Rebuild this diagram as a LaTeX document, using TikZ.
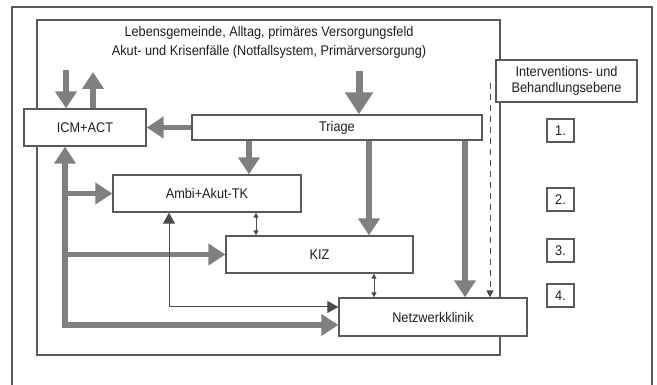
\documentclass[tikz,border=0pt]{standalone}
\usepackage{fontspec}
\setmainfont{Liberation Sans}[FakeStretch=0.91]
\usetikzlibrary{arrows.meta}
\definecolor{arrgray}{RGB}{128,128,128}
\definecolor{boxgray}{RGB}{90,90,90}
\definecolor{thingray}{RGB}{75,75,75}
\definecolor{txt}{RGB}{30,30,30}
\tikzset{
  lbl/.style={font=\fontsize{14}{16}\selectfont, text=txt},
  box/.style={draw=boxgray, line width=1.3pt, fill=white, inner sep=0pt, lbl},
  numbox/.style={draw=boxgray, line width=1.2pt, fill=white, inner sep=0pt, minimum width=27pt, minimum height=23pt, lbl},
  thickarr/.style={draw=arrgray, line width=5.5pt, -{Triangle[length=17pt,width=21pt]}},
  bigarr/.style={draw=arrgray, line width=7pt, -{Triangle[length=22pt,width=27pt]}},
  thinarr/.style={draw=thingray, line width=1pt, {Triangle[length=11pt,width=12pt]}-{Triangle[length=11pt,width=12pt]}},
  smallarr/.style={draw=thingray, line width=1pt, {Triangle[length=5pt,width=5pt]}-{Triangle[length=5pt,width=5pt]}},
  dasharr/.style={draw=thingray, line width=1pt, dash pattern=on 6pt off 5pt, -{Triangle[length=7pt,width=7pt]}},
}
\begin{document}
\begin{tikzpicture}[x=1pt,y=-1pt]
\useasboundingbox (0,0) rectangle (657,385);
% outer frame (open at bottom)
\draw[draw=boxgray, line width=2pt] (12,385) -- (12,7) -- (652,7) -- (652,385);
% inner frame
\draw[draw=boxgray, line width=1.5pt] (37,20) rectangle (500,355);
\node[lbl] (l1) at (269,33) {Lebensgemeinde, Alltag, primäres Versorgungsfeld};
\node[lbl] (l2) at (269,52) {Akut- und Krisenfälle (Notfallsystem, Primärversorgung)};
% boxes
\node[box, minimum width=122pt, minimum height=37pt] (icm) at (85,127.5) {ICM+ACT};
\node[box, minimum width=290pt, minimum height=25pt] (tri) at (337,127.5) {Triage};
\node[box, minimum width=188pt, minimum height=37pt] (amb) at (207,193.5) {Ambi+Akut-TK};
\node[box, minimum width=187pt, minimum height=37pt] (kiz) at (319.5,254.5) {KIZ};
\node[box, minimum width=188pt, minimum height=38pt] (netz) at (433,317) {Netzwerkklinik};
\node[box, minimum width=141pt, minimum height=42pt, align=center] (intv) at (566.5,81) {Interventions- und\\Behandlungsebene};
\node[numbox] (n1) at (560.5,130.5) {1.};
\node[numbox] (n2) at (560.5,199.5) {2.};
\node[numbox] (n3) at (560.5,250.5) {3.};
\node[numbox] (n4) at (560.5,295.5) {4.};
% coordinates
\coordinate (a1) at (66,70);
\coordinate (a2) at (93,72);
\coordinate (a3) at (359,71);
\coordinate (d1) at (490,83);
\coordinate (s1) at (65,193.5);
\coordinate (s2) at (65,254.5);
\coordinate (s3) at (65,325);
\coordinate (t1) at (169,307);
% thick arrows
\draw[thickarr] (a1) -- (a1 |- icm.north);
\draw[thickarr] (a2 |- icm.north) -- (a2);
\draw[bigarr] (a3) -- (a3 |- tri.north);
\draw[thickarr] (tri.west) -- (icm.east);
\draw[thickarr] (tri.south -| 249,0) -- (amb.north -| 249,0);
\draw[thickarr] (tri.south -| 369,0) -- (kiz.north -| 369,0);
\draw[thickarr] (tri.south -| 465,0) -- (netz.north -| 465,0);
\draw[thickarr, {Triangle[length=17pt,width=21pt]}-{Triangle[length=17pt,width=21pt]}] (icm.south -| s3) -- (s3) -- (netz.west |- s3);
\draw[thickarr] (s1) -- (amb.west);
\draw[thickarr] (s2) -- (kiz.west);
% dashed
\draw[dasharr] (d1) -- (netz.north -| d1);
% thin arrows
\draw[smallarr] (amb.south -| 256,0) -- (kiz.north -| 256,0);
\draw[smallarr] (kiz.south -| 374,0) -- (netz.north -| 374,0);
\draw[thinarr] (amb.south -| t1) -- (t1) -- (netz.west |- t1);
\end{tikzpicture}
\end{document}
